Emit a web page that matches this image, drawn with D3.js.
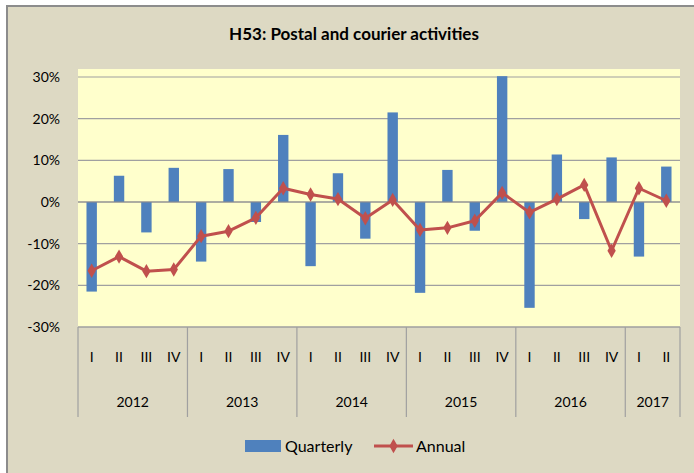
<!DOCTYPE html>
<html>
<head>
<meta charset="utf-8">
<script src="https://cdn.jsdelivr.net/npm/d3@7"></script>
<style>
  body { margin: 0; background: #ffffff; }
  svg { display: block; font-family: Lato, "Open Sans", sans-serif; }
</style>
</head>
<body>
<div id="chart"></div>
<script>
const years = ["2012", "2013", "2014", "2015", "2016", "2017"];
const quarterNames = ["I", "II", "III", "IV"];
const quartersPerYear = [4, 4, 4, 4, 4, 2];
const quarterly = [-21.5, 6.3, -7.3, 8.2, -14.3, 7.9, -4.8, 16.1, -15.4, 6.9, -8.8, 21.5,
                   -21.8, 7.7, -6.9, 30.2, -25.4, 11.4, -4.1, 10.7, -13.1, 8.5];
const annual = [-16.5, -13.1, -16.6, -16.2, -8.2, -7.0, -3.8, 3.3, 1.8, 0.7, -3.9, 0.5,
                -6.7, -6.2, -4.5, 2.2, -2.5, 0.7, 4.1, -11.7, 3.3, 0.3];
const yTicks = [-30, -20, -10, 0, 10, 20, 30];

// build category list (year + quarter)
const cats = [];
years.forEach((yr, i) => {
  for (let q = 0; q < quartersPerYear[i]; q++) cats.push({ year: yr, q: quarterNames[q], key: yr + "-" + q });
});

const W = 694, H = 473;
const plot = { left: 78, top: 69, right: 680, bottom: 327 };

const svg = d3.select("#chart").append("svg")
  .attr("width", W)
  .attr("height", H);

// outer chart background + border
svg.append("rect")
  .attr("x", 0).attr("y", 0).attr("width", W).attr("height", H)
  .attr("fill", "#ffffff");
svg.append("rect")
  .attr("x", 7).attr("y", 6).attr("width", W + 20).attr("height", H + 20)
  .attr("fill", "#ddd9c3")
  .attr("stroke", "#8c8c8c")
  .attr("stroke-width", 2);

// title
svg.append("text")
  .attr("x", 354).attr("y", 40)
  .attr("text-anchor", "middle")
  .style("font-size", "17px")
  .style("font-weight", "bold")
  .attr("fill", "#000")
  .text("H53: Postal and courier activities");

const x = d3.scaleBand()
  .domain(cats.map(d => d.key))
  .range([plot.left, plot.right])
  .paddingInner(0.62)
  .paddingOuter(0.31);

const xc = d3.scalePoint()
  .domain(cats.map(d => d.key))
  .range([plot.left, plot.right])
  .padding(0.5);

const y = d3.scaleLinear()
  .domain([-30, 30])
  .range([327, 77]);

// plot area
svg.append("rect")
  .attr("x", plot.left).attr("y", plot.top)
  .attr("width", plot.right - plot.left).attr("height", plot.bottom - plot.top)
  .attr("fill", "#ffffcc");

// gridlines
svg.append("g")
  .selectAll("line")
  .data(yTicks)
  .enter()
  .append("line")
  .attr("x1", plot.left).attr("x2", plot.right)
  .attr("y1", d => y(d)).attr("y2", d => y(d))
  .attr("stroke", "#a0a0a0")
  .attr("stroke-width", 1.2);

// y axis labels
const yAxis = svg.append("g")
  .attr("transform", `translate(${plot.left},0)`)
  .call(d3.axisLeft(y).tickValues(yTicks).tickFormat(d => d + "%").tickSize(0).tickPadding(18));
yAxis.select(".domain").remove();
yAxis.selectAll("text")
  .style("font-size", "14px")
  .style("font-family", "Lato, sans-serif")
  .attr("fill", "#000");

// bars
svg.selectAll(".bar")
  .data(cats)
  .enter()
  .append("rect")
  .attr("class", "bar")
  .attr("x", d => x(d.key))
  .attr("width", x.bandwidth())
  .attr("y", (d, i) => y(Math.max(0, quarterly[i])))
  .attr("height", (d, i) => Math.abs(y(quarterly[i]) - y(0)))
  .attr("fill", "#4f81bd");

// zero line on top of bars
svg.append("line")
  .attr("x1", plot.left).attr("x2", plot.right)
  .attr("y1", y(0)).attr("y2", y(0))
  .attr("stroke", "#8c8c8c")
  .attr("stroke-width", 1.2);

// annual line
const line = d3.line()
  .x((d, i) => xc(cats[i].key))
  .y(d => y(d));
svg.append("path")
  .datum(annual)
  .attr("d", line)
  .attr("fill", "none")
  .attr("stroke", "#c0504d")
  .attr("stroke-width", 3)
  .attr("stroke-linejoin", "round");

const diamond = d3.symbol().type(d3.symbolDiamond).size(60);
svg.selectAll(".marker")
  .data(annual)
  .enter()
  .append("path")
  .attr("class", "marker")
  .attr("d", diamond)
  .attr("transform", (d, i) => `translate(${xc(cats[i].key)},${y(d)})`)
  .attr("fill", "#c0504d");

// category axis
const step = xc.step();
const axisG = svg.append("g");
axisG.append("line")
  .attr("x1", plot.left).attr("x2", plot.right)
  .attr("y1", plot.bottom).attr("y2", plot.bottom)
  .attr("stroke", "#a0a0a0").attr("stroke-width", 1.2);

axisG.selectAll(".qlab")
  .data(cats)
  .enter()
  .append("text")
  .attr("class", "qlab")
  .attr("x", d => xc(d.key))
  .attr("y", 362)
  .attr("text-anchor", "middle")
  .style("font-size", "14px")
  .attr("fill", "#000")
  .text(d => d.q);

// year groups
const groups = [];
let start = 0;
years.forEach((yr, i) => {
  groups.push({ year: yr, first: cats[start].key, last: cats[start + quartersPerYear[i] - 1].key });
  start += quartersPerYear[i];
});

const sepX = [plot.left].concat(groups.map(g => xc(g.last) + step / 2));
axisG.selectAll(".sep")
  .data(sepX)
  .enter()
  .append("line")
  .attr("class", "sep")
  .attr("x1", d => d).attr("x2", d => d)
  .attr("y1", plot.bottom).attr("y2", 417)
  .attr("stroke", "#a0a0a0").attr("stroke-width", 1.2);

axisG.selectAll(".ylab")
  .data(groups)
  .enter()
  .append("text")
  .attr("class", "ylab")
  .attr("x", g => (xc(g.first) + xc(g.last)) / 2)
  .attr("y", 407)
  .attr("text-anchor", "middle")
  .style("font-size", "14px")
  .attr("fill", "#000")
  .text(g => g.year);

// legend
const lg = svg.append("g");
lg.append("rect")
  .attr("x", 245).attr("y", 440).attr("width", 36).attr("height", 12)
  .attr("fill", "#4f81bd");
lg.append("text")
  .attr("x", 285).attr("y", 452)
  .style("font-size", "16px")
  .attr("fill", "#000")
  .text("Quarterly");
lg.append("line")
  .attr("x1", 374).attr("x2", 413)
  .attr("y1", 446).attr("y2", 446)
  .attr("stroke", "#c0504d").attr("stroke-width", 3);
lg.append("path")
  .attr("d", diamond)
  .attr("transform", "translate(393.5,446)")
  .attr("fill", "#c0504d");
lg.append("text")
  .attr("x", 416).attr("y", 452)
  .style("font-size", "16px")
  .attr("fill", "#000")
  .text("Annual");
</script>
</body>
</html>
